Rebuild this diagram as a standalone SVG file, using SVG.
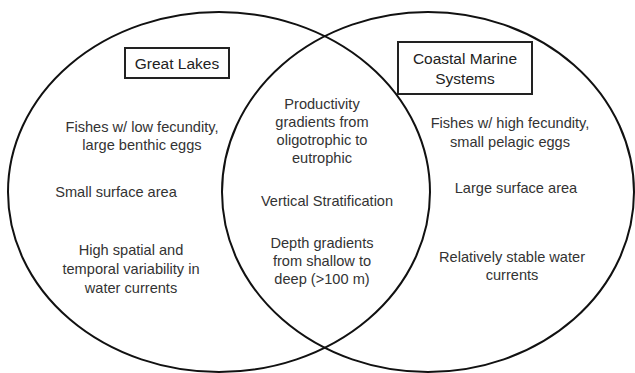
<svg xmlns="http://www.w3.org/2000/svg" width="635" height="373" viewBox="0 0 635 373">
  <style>
    .set { fill: none; stroke: #111; stroke-width: 2; }
    .box { fill: #fff; stroke: #222; stroke-width: 2; }
    text { font-family: "Liberation Sans", Arial, sans-serif; font-size: 14.6px; fill: #333; text-anchor: middle; }
    .title { font-size: 15.5px; fill: #222; }
  </style>
  <rect width="635" height="373" fill="#fff"/>

  <!-- the two overlapping sets -->
  <g id="connectors">
    <ellipse class="set" cx="219" cy="192" rx="211" ry="180"/>
    <ellipse class="set" cx="428" cy="192" rx="206" ry="180"/>
  </g>

  <g id="great-lakes-title">
    <rect class="box" x="125" y="48" width="104" height="30"/>
    <text class="title" x="177" y="69">Great Lakes</text>
  </g>

  <g id="coastal-title">
    <rect class="box" x="398" y="42" width="134" height="52"/>
    <text class="title" x="465" y="64">Coastal Marine</text>
    <text class="title" x="465" y="84">Systems</text>
  </g>

  <!-- Great Lakes only -->
  <g id="gl-fecundity">
    <text x="142" y="132">Fishes w/ low fecundity,</text>
    <text x="142" y="150">large benthic eggs</text>
  </g>
  <g id="gl-area">
    <text x="116" y="197">Small surface area</text>
  </g>
  <g id="gl-currents">
    <text x="131" y="255">High spatial and</text>
    <text x="131" y="274">temporal variability in</text>
    <text x="131" y="293">water currents</text>
  </g>

  <!-- shared -->
  <g id="shared-productivity">
    <text x="322" y="109">Productivity</text>
    <text x="322" y="127">gradients from</text>
    <text x="322" y="145">oligotrophic to</text>
    <text x="322" y="163">eutrophic</text>
  </g>
  <g id="shared-stratification">
    <text x="327" y="206">Vertical Stratification</text>
  </g>
  <g id="shared-depth">
    <text x="322" y="248">Depth gradients</text>
    <text x="322" y="266">from shallow to</text>
    <text x="322" y="284">deep (&gt;100 m)</text>
  </g>

  <!-- Coastal Marine only -->
  <g id="cm-fecundity">
    <text x="510" y="128">Fishes w/ high fecundity,</text>
    <text x="510" y="147">small pelagic eggs</text>
  </g>
  <g id="cm-area">
    <text x="516" y="193">Large surface area</text>
  </g>
  <g id="cm-currents">
    <text x="512" y="262">Relatively stable water</text>
    <text x="512" y="280">currents</text>
  </g>
</svg>
